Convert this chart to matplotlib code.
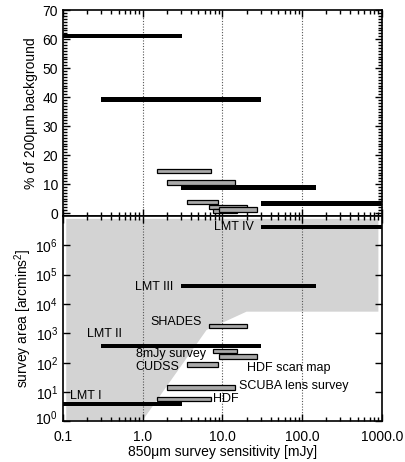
import matplotlib
matplotlib.use("Agg")
import matplotlib.pyplot as plt
import matplotlib.transforms as mtransforms
from matplotlib.ticker import LogLocator, MultipleLocator, FixedLocator, NullFormatter, NullLocator

plt.rcParams['font.family'] = ['Liberation Sans', 'DejaVu Sans']
plt.rcParams['mathtext.fontset'] = 'custom'
plt.rcParams['mathtext.rm'] = 'Liberation Sans'
plt.rcParams['font.size'] = 10

# ---- data ----
lmt_names = ["LMT I", "LMT II", "LMT III", "LMT IV"]
lmt_xmin = [0.1, 0.3, 3.0, 30.0]
lmt_xmax = [3.1, 30.0, 150.0, 1000.0]
lmt_pct = [61.1, 39.3, 8.8, 3.3]
lmt_area = [4.0, 380.0, 41000.0, 4.2e6]

svy_names = ["HDF", "SCUBA lens survey", "CUDSS", "SHADES", "8mJy survey", "HDF scan map"]
svy_xmin = [1.52, 2.02, 3.56, 6.7, 7.7, 9.1]
svy_xmax = [7.1, 14.3, 8.8, 20.3, 15.1, 27.4]
svy_pct = [14.6, 10.6, 3.9, 2.1, 0.7, 1.2]
svy_area = [5.9, 14.4, 87.0, 1820.0, 255.0, 166.0]

# shaded accessible region (sensitivity, area)
region_x = [0.11, 0.11, 900.0, 900.0, 20.0, 6.3, 1.0]
region_y = [1.1, 8e6, 8e6, 5500.0, 5500.0, 1300.0, 1.1]

xticks = [0.1, 1.0, 10.0, 100.0, 1000.0]
xticklabels = ["0.1", "1.0", "10.0", "100.0", "1000.0"]
grid_x = [1.0, 10.0, 100.0]

# label placement (x, y, ha)
lmt_label_pos = [(0.122, 7.6, 'left'), (0.2, 930.0, 'left'), (2.42, 37000.0, 'right'), (24.9, 4.1e6, 'right')]
svy_label_pos = [(7.7, 5.7, 'left'), (16.3, 16.0, 'left'), (0.82, 74.0, 'left'), (5.5, 2500.0, 'right'),
                 (0.82, 194.0, 'left'), (20.2, 65.0, 'left')]

fig = plt.figure(figsize=(4.06, 4.62), dpi=100)
ax1 = fig.add_axes([0.155, 0.5325, 0.786, 0.4455])
ax2 = fig.add_axes([0.155, 0.0877, 0.786, 0.4448], sharex=ax1)

grey = '#a9a9a9'
light = '#d3d3d3'

# ---- top panel ----
hb = 1.7
for x0, x1, y in zip(lmt_xmin, lmt_xmax, lmt_pct):
    ax1.barh(y, x1 - x0, left=x0, height=hb, color='black', zorder=3)
for x0, x1, y in zip(svy_xmin, svy_xmax, svy_pct):
    ax1.barh(y, x1 - x0, left=x0, height=1.5, color=grey, edgecolor='black', linewidth=0.9, zorder=3)
for g in grid_x:
    ax1.axvline(g, color='#555555', linestyle=(0, (1, 1.5)), linewidth=0.8, zorder=1)
ax1.set_xscale('log')
ax1.set_xlim(0.1, 1000)
ax1.set_ylim(-1, 70)
ax1.yaxis.set_major_locator(MultipleLocator(10))
ax1.yaxis.set_minor_locator(MultipleLocator(1))
ax1.set_ylabel("% of 200\u03bcm background", labelpad=3)
plt.setp(ax1.get_xticklabels(), visible=False)

# ---- bottom panel ----
ax2.fill(region_x, region_y, color=light, linewidth=0, zorder=0)
for g in grid_x:
    ax2.axvline(g, color='#555555', linestyle=(0, (1, 1.5)), linewidth=0.8, zorder=1)
f = 10 ** 0.075
for x0, x1, y in zip(lmt_xmin, lmt_xmax, lmt_area):
    ax2.barh(y / f, x1 - x0, left=x0, height=y * f - y / f, align='edge', color='black', zorder=3)
for x0, x1, y in zip(svy_xmin, svy_xmax, svy_area):
    ax2.barh(y / f, x1 - x0, left=x0, height=y * f - y / f, align='edge', color=grey,
             edgecolor='black', linewidth=0.9, zorder=3)
for name, (x, y, ha) in zip(lmt_names, lmt_label_pos):
    ax2.text(x, y, name, ha=ha, va='center', zorder=4, fontsize=9)
for name, (x, y, ha) in zip(svy_names, svy_label_pos):
    ax2.text(x, y, name, ha=ha, va='center', zorder=4, fontsize=9)
ax2.set_yscale('log')
ax2.set_ylim(1, 1e7)
ax2.yaxis.set_major_locator(FixedLocator([1, 10, 100, 1e3, 1e4, 1e5, 1e6]))
ax2.yaxis.set_minor_locator(NullLocator())
ax2.set_xticks(xticks)
ax2.set_xticklabels(xticklabels)
ax2.xaxis.set_minor_locator(LogLocator(base=10, subs=range(2, 10)))
ax2.xaxis.set_minor_formatter(NullFormatter())
ax2.set_xlim(0.1, 1000)
ax2.set_ylabel("survey area [arcmins$^2$]", labelpad=1)
ax2.set_xlabel("850\u03bcm survey sensitivity [mJy]", labelpad=1)

for ax in (ax1, ax2):
    ax.tick_params(which='both', direction='in', top=True, right=True, width=1.0)
    ax.tick_params(which='major', length=5)
    ax.tick_params(which='minor', length=3)
    for s in ax.spines.values():
        s.set_linewidth(1.2)
ax1.xaxis.set_minor_locator(LogLocator(base=10, subs=range(2, 10)))
ax1.xaxis.set_minor_formatter(NullFormatter())
ax2.tick_params(axis='x', which='major', pad=6)

# nudge the lowest y label of the bottom panel upward, as in the reference
fig.canvas.draw()
shift = mtransforms.ScaledTranslation(0, 4 / 100, fig.dpi_scale_trans)
lbl = ax2.get_yticklabels()[0]
lbl.set_transform(lbl.get_transform() + shift)

fig.savefig("out.png", dpi=100)
